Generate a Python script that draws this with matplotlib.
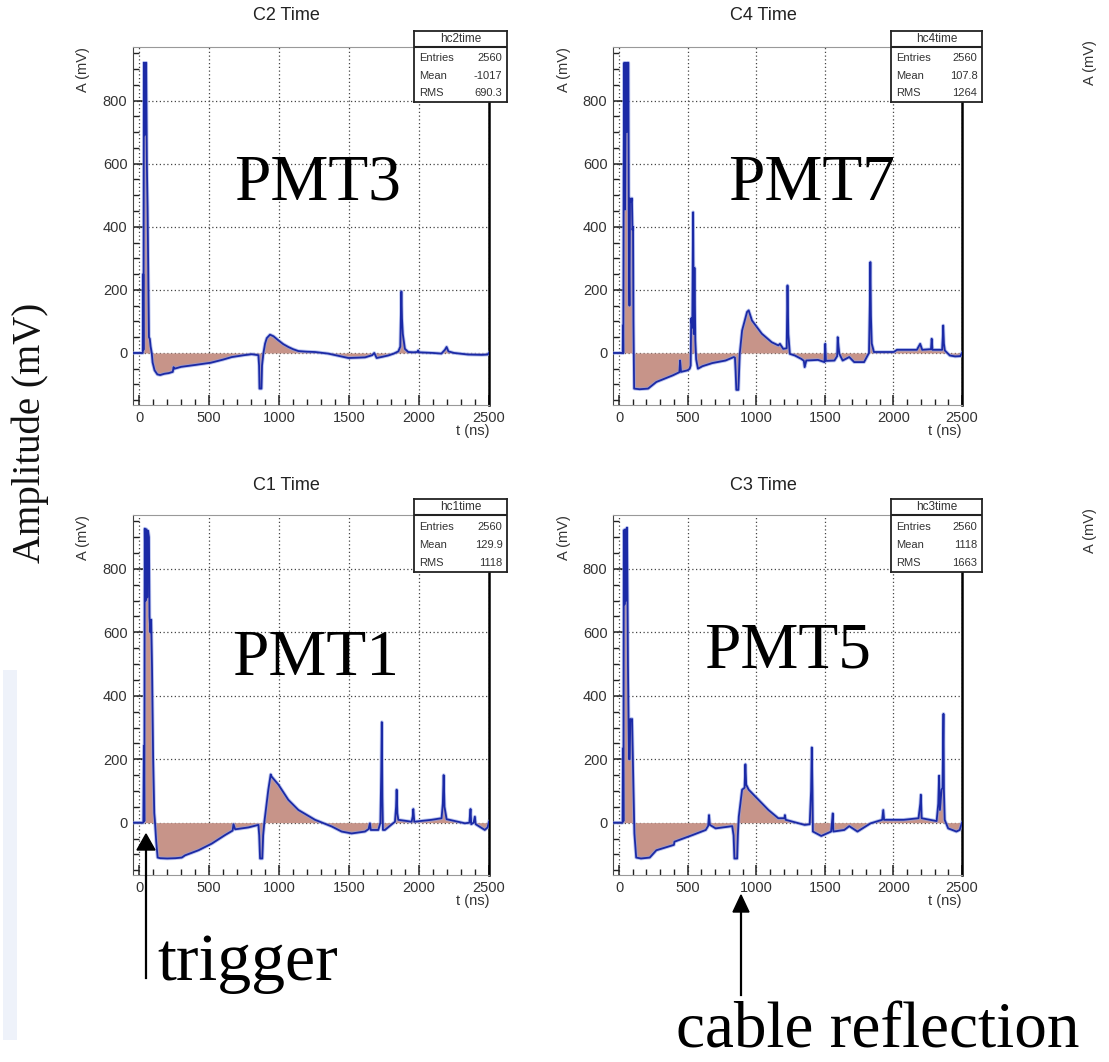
import numpy as np
import matplotlib
matplotlib.use('Agg')
import matplotlib.pyplot as plt
from matplotlib.patches import Rectangle, Polygon
from matplotlib.lines import Line2D
from matplotlib.ticker import MultipleLocator

# waveforms: (t in ns, A in mV)
pmt3 = [(-44, 0), (26, 0), (29, 250), (31, 10), (34, 920), (38, 690), (42, 920), (46, 700), (50, 920),
        (55, 600), (60, 465), (64, 300), (70, 50), (76, 45), (82, 20), (90, 0), (96, -30), (110, -55),
        (130, -68), (150, -70), (180, -66), (210, -64), (240, -60), (246, -45), (252, -50), (300, -44),
        (400, -38), (512, -31), (600, -21), (662, -13), (750, -7), (804, -4), (852, -7), (857, -40),
        (860, -113), (874, -113), (878, -40), (888, 0), (900, 30), (912, 47), (935, 58), (960, 53),
        (995, 40), (1030, 28), (1066, 19), (1100, 12), (1138, 6), (1200, 4), (1257, 3), (1350, -2),
        (1423, -9), (1495, -16), (1560, -15), (1614, -14), (1666, -7), (1680, 0), (1697, -16),
        (1740, -12), (1780, -8), (1820, -2), (1852, 5), (1866, 20), (1870, 110), (1874, 195),
        (1878, 110), (1884, 60), (1899, 13), (1923, 3), (1960, 2), (1988, 3), (1994, 8), (2000, 2),
        (2100, 0), (2160, -2), (2185, 10), (2197, 19), (2210, 5), (2250, 0), (2350, -5), (2450, -6),
        (2490, -5), (2500, 0)]

pmt7 = [(-44, 0), (27, 0), (29, 87), (31, 0), (34, 563), (38, 920), (44, 455), (50, 920), (56, 700),
        (62, 920), (68, 920), (72, 300), (76, 150), (80, 490), (88, 480), (94, 490), (98, 390),
        (102, 400), (105, 100), (110, -113), (150, -115), (212, -113), (272, -92), (392, -71),
        (440, -61), (445, -24), (452, -60), (500, -55), (515, -50), (522, -40), (526, 110), (534, 80),
        (540, 446), (545, 60), (550, 270), (556, 40), (562, -20), (575, -50), (608, -42), (680, -32),
        (776, -24), (837, -13), (845, -15), (850, -60), (855, -117), (870, -117), (875, -60), (880, -2),
        (897, 71), (933, 130), (945, 135), (969, 103), (1041, 61), (1113, 34), (1161, 24), (1173, 29),
        (1197, 13), (1222, 15), (1228, 214), (1234, 60), (1245, -3), (1281, -8), (1329, -19),
        (1347, -25), (1353, -45), (1365, -24), (1450, -22), (1498, -29), (1503, 29), (1508, -25),
        (1570, -24), (1590, -10), (1594, 50), (1600, 20), (1606, -3), (1630, -24), (1678, -13),
        (1714, -29), (1786, -29), (1822, 0), (1828, 150), (1832, 288), (1836, 118), (1842, 30),
        (1858, 3), (2002, 3), (2026, 10), (2171, 10), (2195, 29), (2210, 10), (2274, 12), (2279, 45),
        (2285, 10), (2355, 10), (2360, 50), (2363, 87), (2368, 30), (2375, 8), (2411, -8), (2450, -11),
        (2488, -10), (2500, 0)]

pmt1 = [(-44, 0), (30, 0), (34, 242), (37, 5), (40, 927), (46, 700), (52, 925), (58, 710), (64, 920),
        (70, 900), (74, 650), (80, 600), (86, 640), (92, 487), (100, 199), (108, 30), (112, 9),
        (122, -60), (132, -110), (150, -112), (200, -113), (260, -112), (305, -110), (328, -103),
        (424, -87), (519, -66), (614, -39), (668, -25), (674, -5), (686, -21), (781, -15), (852, -7),
        (858, -40), (864, -113), (880, -113), (886, -40), (895, 3), (923, 104), (940, 152), (947, 145),
        (995, 120), (1066, 72), (1138, 40), (1257, 9), (1376, -12), (1447, -28), (1518, -34),
        (1614, -28), (1640, -20), (1649, -2), (1655, -23), (1709, -23), (1724, 0), (1730, 157),
        (1734, 317), (1738, 80), (1742, -23), (1756, -23), (1828, 3), (1836, 50), (1840, 104),
        (1845, 30), (1852, 9), (1947, 3), (1955, 20), (1959, 43), (1966, 3), (2090, 9), (2161, 14),
        (2170, 60), (2176, 150), (2182, 50), (2197, 11), (2328, -2), (2360, 0), (2368, 43), (2373, -5),
        (2390, 0), (2399, 19), (2405, -5), (2423, -10), (2470, -23), (2490, -15), (2500, 3)]

pmt5 = [(-44, 0), (26, 0), (29, 234), (32, 5), (35, 922), (40, 688), (46, 925), (52, 700), (58, 930),
        (62, 700), (65, 497), (70, 300), (73, 200), (78, 200), (82, 327), (90, 320), (95, 327),
        (104, 130), (112, -34), (125, -110), (160, -113), (224, -110), (272, -87), (400, -70),
        (404, -60), (536, -39), (632, -23), (650, -10), (656, 24), (662, -7), (704, -18), (825, -11),
        (835, -40), (841, -113), (861, -113), (866, -40), (873, 19), (897, 104), (915, 110), (921, 184),
        (927, 120), (945, 104), (1017, 72), (1089, 40), (1161, 14), (1205, 14), (1209, 24), (1215, 9),
        (1353, -7), (1390, -5), (1400, 100), (1405, 237), (1410, 100), (1413, -28), (1474, -42),
        (1546, -28), (1552, 0), (1558, 29), (1562, -28), (1642, -23), (1678, -11), (1738, -28),
        (1834, -2), (1918, 9), (1926, 40), (1932, 9), (2075, 9), (2183, 14), (2196, 60), (2200, 88),
        (2206, 14), (2315, 5), (2327, 60), (2333, 148), (2339, 40), (2351, 104), (2358, 110),
        (2365, 343), (2368, 104), (2374, 9), (2399, -18), (2459, -28), (2483, -23), (2500, 0)]

titles = ['C2 Time', 'C4 Time', 'C1 Time', 'C3 Time']
hist_names = ['hc2time', 'hc4time', 'hc1time', 'hc3time']
entries = ['2560', '2560', '2560', '2560']
means = ['-1017', '107.8', '129.9', '1118']
rms = ['690.3', '1264', '1118', '1663']
pmt_labels = ['PMT3', 'PMT7', 'PMT1', 'PMT5']
waves = [pmt3, pmt7, pmt1, pmt5]

# layout in pixels of the 1109x1062 picture
W, H = 1109, 1062
frames = [(133, 47, 489, 405), (613, 47, 962, 405), (133, 515, 489, 875), (613, 515, 962, 875)]
title_xy = [(286, 16), (763, 16), (286, 485), (763, 485)]
boxes = [(414, 31, 507, 102), (891, 31, 982, 102), (414, 499, 507, 572), (891, 499, 982, 572)]
label_xy = [(318, 200), (812, 200), (316, 675), (787, 667)]
ylab_x = [83, 564, 83, 564]

FILL = '#c79489'
BLUE = '#1b2aa6'
SERIF = ['Liberation Serif', 'DejaVu Serif']
SANS = ['Liberation Sans', 'DejaVu Sans']


def fx(px):
    return px / W


def fy(py):
    return 1 - py / H


fig = plt.figure(figsize=(W / 100, H / 100), dpi=100)
fig.patch.set_facecolor('white')

# faint slide artifact on the left edge
fig.add_artist(Rectangle((fx(3), fy(1040)), 14 / W, 370 / H, transform=fig.transFigure,
                         color='#eef2fa', lw=0, zorder=0))

for i in range(4):
    l, t, r, b = frames[i]
    ax = fig.add_axes([fx(l), fy(b), (r - l) / W, (b - t) / H])
    d = np.array(waves[i], dtype=float)
    ax.fill_between(d[:, 0], d[:, 1], 0, color=FILL, lw=0, zorder=2)
    ax.plot(d[:, 0], d[:, 1], color='#8f9fe6', lw=2.6, alpha=0.6, zorder=3)
    ax.plot(d[:, 0], d[:, 1], color=BLUE, lw=1.3, zorder=4)
    ax.set_xlim(-44, 2500)
    ax.set_ylim(-165, 970)
    ax.xaxis.set_major_locator(MultipleLocator(500))
    ax.xaxis.set_minor_locator(MultipleLocator(100))
    ax.yaxis.set_major_locator(MultipleLocator(200))
    ax.yaxis.set_minor_locator(MultipleLocator(50))
    ax.tick_params(which='both', direction='in', top=False, right=False,
                   labelsize=10.5, labelcolor='#333333', color='#222222', pad=4)
    ax.tick_params(which='major', length=7, width=1.1)
    ax.tick_params(which='minor', length=4, width=1)
    for lab in ax.get_xticklabels() + ax.get_yticklabels():
        lab.set_family(SANS)
    ax.grid(True, which='major', ls=(0, (1, 2)), color='#444444', lw=0.9, zorder=1)
    ax.spines['left'].set_color('#444444')
    ax.spines['bottom'].set_color('#999999')
    ax.spines['top'].set_color('#999999')
    ax.spines['right'].set_color('black')
    ax.spines['right'].set_linewidth(1.8)

    fig.text(fx(title_xy[i][0]), fy(title_xy[i][1]), titles[i], ha='center', va='center',
             fontsize=13, color='#222222', family=SANS)
    fig.text(fx(ylab_x[i]), fy(t), 'A (mV)', rotation=90, ha='center', va='top',
             fontsize=10.5, color='#333333', family=SANS)
    fig.text(fx(r), fy(b + 26), 't (ns)', ha='right', va='center',
             fontsize=10.5, color='#333333', family=SANS)
    fig.text(fx(label_xy[i][0]), fy(label_xy[i][1]), pmt_labels[i], ha='center', va='baseline',
             fontsize=47, color='black', family=SERIF)

    # ROOT statistics box
    bl, bt, br, bb = boxes[i]
    bax = fig.add_axes([fx(bl), fy(bb), (br - bl) / W, (bb - bt) / H])
    bax.set_xlim(0, 1)
    bax.set_ylim(0, 1)
    bax.set_xticks([])
    bax.set_yticks([])
    for s in bax.spines.values():
        s.set_color('#222222')
        s.set_linewidth(1.3)
    bax.axhline(0.775, color='#222222', lw=1.5)
    bax.text(0.5, 0.885, hist_names[i], ha='center', va='center', fontsize=8.5,
             color='#333333', family=SANS)
    rows = [('Entries', entries[i]), ('Mean', means[i]), ('RMS', rms[i])]
    for k, (name, val) in enumerate(rows):
        yy = 0.62 - k * 0.25
        bax.text(0.06, yy, name, ha='left', va='center', fontsize=8, color='#333333', family=SANS)
        bax.text(0.95, yy, val, ha='right', va='center', fontsize=8, color='#333333', family=SANS)

# cut-off axis labels of the next column of pads
fig.text(fx(1090), fy(40), 'A (mV)', rotation=90, ha='center', va='top',
         fontsize=10.5, color='#333333', family=SANS)
fig.text(fx(1090), fy(508), 'A (mV)', rotation=90, ha='center', va='top',
         fontsize=10.5, color='#333333', family=SANS)

fig.text(fx(30), fy(433), 'Amplitude (mV)', rotation=90, ha='center', va='center',
         fontsize=28, color='#111111', family=SERIF)

# annotations
fig.add_artist(Line2D([fx(146), fx(146)], [fy(978), fy(848)], color='black', lw=1.6,
                      transform=fig.transFigure))
fig.add_artist(Polygon([(fx(137), fy(850)), (fx(155), fy(850)), (fx(146), fy(834))],
                       closed=True, color='black', transform=fig.transFigure))
fig.text(fx(157), fy(980), 'trigger', ha='left', va='baseline', fontsize=49,
         color='black', family=SERIF)

fig.add_artist(Line2D([fx(741), fx(741)], [fy(995), fy(910)], color='black', lw=1.6,
                      transform=fig.transFigure))
fig.add_artist(Polygon([(fx(733), fy(912)), (fx(749), fy(912)), (fx(741), fy(895))],
                       closed=True, color='black', transform=fig.transFigure))
fig.text(fx(676), fy(1061), 'cable reflection', ha='left', va='bottom', fontsize=47,
         color='black', family=SERIF)

fig.savefig('out.png', dpi=100)
